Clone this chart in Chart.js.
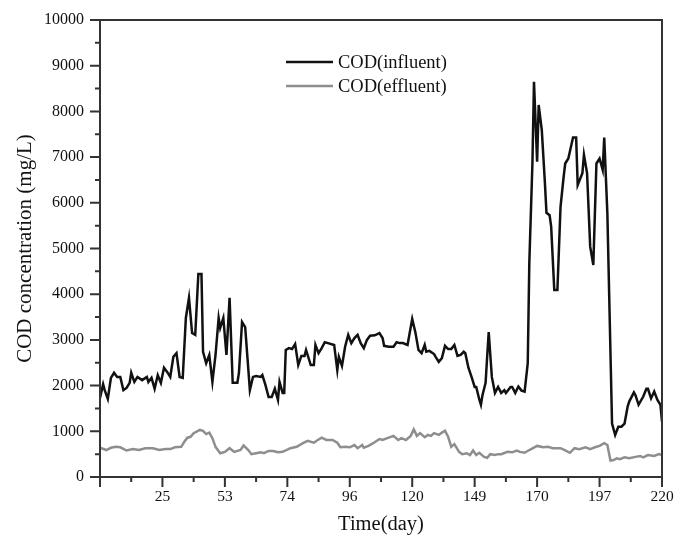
<!DOCTYPE html>
<html>
<head>
<meta charset="utf-8">
<script src="https://cdn.jsdelivr.net/npm/chart.js@4.4.0/dist/chart.umd.min.js"></script>
<style>
  html, body { margin: 0; padding: 0; background: #fff; }
  #wrap { width: 676px; height: 535px; }
</style>
</head>
<body>
<div id="wrap"><canvas id="codChart" width="676" height="535"></canvas></div>
<script>
// x is the sample position along the axis (40 units between labelled ticks)
const tickLabels = ['', '25', '53', '74', '96', '120', '149', '170', '197', '220'];
const yTicks = [0, 1000, 2000, 3000, 4000, 5000, 6000, 7000, 8000, 9000, 10000];

const influentPos = [0, 2, 3, 5, 7, 9, 11, 13, 15, 17, 19, 20, 22, 24, 27, 30, 31, 33, 35, 37, 39, 41, 43, 45, 47, 49, 51, 53, 55, 57, 59, 61, 63, 65, 66, 68, 70, 72, 74, 76, 77, 79, 81, 83, 85, 88, 89, 91, 93, 96, 98, 100, 103, 104, 106, 108, 110, 112, 114, 115, 117, 118, 119, 121, 123, 125, 127, 129, 131, 132, 135, 137, 138, 140, 142, 144, 146, 150, 152, 153, 155, 157, 159, 161, 163, 165, 167, 169, 171, 173, 176, 179, 181, 182, 185, 188, 190, 192, 194, 197, 200, 202, 204, 206, 208, 209, 211, 214, 215, 217, 219, 221, 223, 225, 227, 229, 231, 233, 234, 236, 238, 240, 241, 243, 244, 245, 247, 248, 249, 251, 253, 255, 257, 259, 260, 263, 264, 266, 268, 270, 272, 274, 275, 277, 278, 280, 281, 283, 285, 286, 288, 289, 291, 293, 295, 297, 298, 300, 303, 305, 306, 309, 310, 312, 314, 316, 318, 320, 322, 323, 325, 328, 330, 332, 334, 336, 338, 339, 342, 343, 345, 348, 350, 351, 353, 355, 357, 359, 360];
const influentCOD = [1730, 2030, 1900, 1710, 2170, 2280, 2190, 2190, 1900, 1950, 2060, 2280, 2080, 2190, 2120, 2190, 2080, 2170, 1930, 2230, 2060, 2390, 2300, 2190, 2630, 2710, 2190, 2170, 3480, 3920, 3150, 3110, 4440, 4440, 2740, 2490, 2670, 2080, 2670, 3480, 3260, 3480, 2670, 3920, 2060, 2060, 2280, 3390, 3280, 1900, 2190, 2210, 2190, 2230, 2010, 1750, 1750, 1930, 1690, 2080, 1840, 1840, 2780, 2820, 2800, 2910, 2450, 2650, 2650, 2780, 2450, 2450, 2890, 2710, 2820, 2950, 2930, 2890, 2340, 2630, 2430, 2850, 3110, 2930, 3040, 3110, 2930, 2820, 3000, 3090, 3100, 3150, 3040, 2870, 2850, 2850, 2950, 2930, 2930, 2890, 3460, 3170, 2780, 2710, 2890, 2740, 2760, 2690, 2630, 2520, 2600, 2870, 2800, 2800, 2890, 2650, 2670, 2740, 2710, 2390, 2190, 1970, 1970, 1690, 1580, 1790, 2060, 2630, 3170, 2190, 1840, 1970, 1840, 1900, 1840, 1970, 1970, 1840, 1980, 1890, 1870, 2490, 4680, 6870, 8650, 6900, 8140, 7590, 6430, 5780, 5730, 5480, 4090, 4090, 5910, 6570, 6860, 6970, 7430, 7430, 6390, 6650, 7050, 6650, 5040, 4640, 6860, 6970, 6720, 7430, 5770, 1170, 920, 1100, 1100, 1170, 1540, 1650, 1850, 1790, 1580, 1760, 1930, 1930, 1720, 1870, 1690, 1580, 1210];

const effluentPos = [0, 4, 7, 10, 13, 17, 21, 25, 29, 34, 38, 42, 45, 48, 52, 54, 56, 58, 60, 64, 66, 68, 70, 72, 74, 77, 80, 83, 86, 90, 92, 95, 97, 100, 103, 105, 108, 111, 114, 117, 122, 126, 130, 133, 137, 139, 142, 145, 149, 152, 154, 157, 160, 163, 165, 168, 169, 172, 175, 179, 181, 184, 188, 191, 193, 196, 199, 201, 203, 205, 208, 210, 212, 214, 217, 219, 221, 223, 225, 227, 230, 232, 235, 237, 239, 241, 243, 246, 248, 250, 253, 255, 257, 261, 264, 267, 269, 272, 275, 280, 284, 287, 290, 295, 298, 301, 304, 307, 311, 314, 317, 320, 323, 325, 327, 329, 331, 333, 336, 339, 343, 346, 348, 351, 355, 358, 360];
const effluentCOD = [640, 590, 640, 660, 650, 580, 610, 590, 630, 630, 590, 610, 610, 650, 660, 770, 860, 880, 960, 1030, 1010, 940, 970, 850, 660, 520, 550, 630, 550, 590, 690, 590, 500, 520, 540, 520, 570, 570, 540, 550, 630, 660, 740, 790, 750, 800, 860, 810, 810, 750, 650, 660, 650, 700, 630, 700, 640, 680, 740, 830, 810, 850, 900, 810, 850, 810, 900, 1040, 900, 960, 870, 920, 900, 960, 920, 970, 1010, 880, 660, 720, 550, 500, 520, 480, 580, 480, 530, 440, 420, 500, 480, 500, 500, 550, 540, 580, 550, 530, 590, 680, 650, 660, 630, 630, 580, 530, 630, 610, 650, 610, 650, 680, 740, 700, 360, 370, 410, 390, 430, 410, 440, 460, 430, 480, 460, 500, 480];

const serif = '"Liberation Serif", "DejaVu Serif", serif';
const axisColor = '#333';

function noScalePadding(scale) {
  scale.paddingLeft = 0;
  scale.paddingRight = 0;
  scale.paddingTop = 0;
  scale.paddingBottom = 0;
}

// frame, minor/major ticks and the in-plot legend
const frameAndLegend = {
  id: 'frameAndLegend',
  afterDraw(chart) {
    const { ctx, chartArea: a, scales: { x, y } } = chart;
    ctx.save();
    ctx.strokeStyle = axisColor;
    ctx.lineWidth = 2;
    ctx.strokeRect(a.left, a.top, a.right - a.left, a.bottom - a.top);

    ctx.beginPath();
    for (let v = x.min; v <= x.max; v += 20) {
      const px = x.getPixelForValue(v);
      const len = v % 40 === 0 ? 10 : 5;
      ctx.moveTo(px, a.bottom);
      ctx.lineTo(px, a.bottom + len);
    }
    for (let v = y.min; v <= y.max; v += 500) {
      const py = y.getPixelForValue(v);
      const len = v % 1000 === 0 ? 10 : 5;
      ctx.moveTo(a.left, py);
      ctx.lineTo(a.left - len, py);
    }
    ctx.stroke();

    // legend
    ctx.font = '18.5px ' + serif;
    ctx.textBaseline = 'middle';
    ctx.textAlign = 'left';
    chart.data.datasets.forEach((ds, i) => {
      const ly = 62 + i * 24;
      ctx.strokeStyle = ds.borderColor;
      ctx.lineWidth = 2.5;
      ctx.beginPath();
      ctx.moveTo(286, ly);
      ctx.lineTo(333, ly);
      ctx.stroke();
      ctx.fillStyle = '#111';
      ctx.fillText(ds.label, 338, ly + 1);
    });
    ctx.restore();
  }
};

new Chart(document.getElementById('codChart'), {
  type: 'line',
  data: {
    datasets: [
      {
        label: 'COD(influent)',
        data: influentPos.map((p, i) => ({ x: p, y: influentCOD[i] })),
        borderColor: '#111',
        borderWidth: 2.5,
        pointRadius: 0,
        tension: 0
      },
      {
        label: 'COD(effluent)',
        data: effluentPos.map((p, i) => ({ x: p, y: effluentCOD[i] })),
        borderColor: '#8e8e8e',
        borderWidth: 2.5,
        pointRadius: 0,
        tension: 0
      }
    ]
  },
  options: {
    responsive: false,
    animation: false,
    layout: { padding: { top: 20, right: 14, left: 0, bottom: 0 } },
    plugins: {
      legend: { display: false },
      tooltip: { enabled: false }
    },
    scales: {
      x: {
        type: 'linear',
        min: 0,
        max: 360,
        grid: { display: false, drawTicks: false },
        border: { display: false },
        ticks: {
          stepSize: 40,
          autoSkip: false,
          maxRotation: 0,
          padding: 11,
          color: '#111',
          font: { family: serif, size: 15.5 },
          callback: v => tickLabels[v / 40] ?? ''
        },
        title: {
          display: true,
          text: 'Time(day)',
          color: '#111',
          font: { family: serif, size: 20.5, lineHeight: 1 },
          padding: { top: 0, bottom: 0 }
        },
        afterFit(scale) { scale.height = 58; noScalePadding(scale); }
      },
      y: {
        min: 0,
        max: 10000,
        grid: { display: false, drawTicks: false },
        border: { display: false },
        afterBuildTicks(scale) { scale.ticks = yTicks.map(v => ({ value: v })); },
        ticks: {
          padding: 16,
          color: '#111',
          font: { family: serif, size: 16 },
          callback: v => String(v)
        },
        title: {
          display: true,
          text: 'COD concentration (mg/L)',
          color: '#111',
          font: { family: serif, size: 21, lineHeight: 1 },
          padding: { top: 15, bottom: 0 }
        },
        afterFit(scale) { scale.width = 100; noScalePadding(scale); }
      }
    }
  },
  plugins: [frameAndLegend]
});
</script>
</body>
</html>
